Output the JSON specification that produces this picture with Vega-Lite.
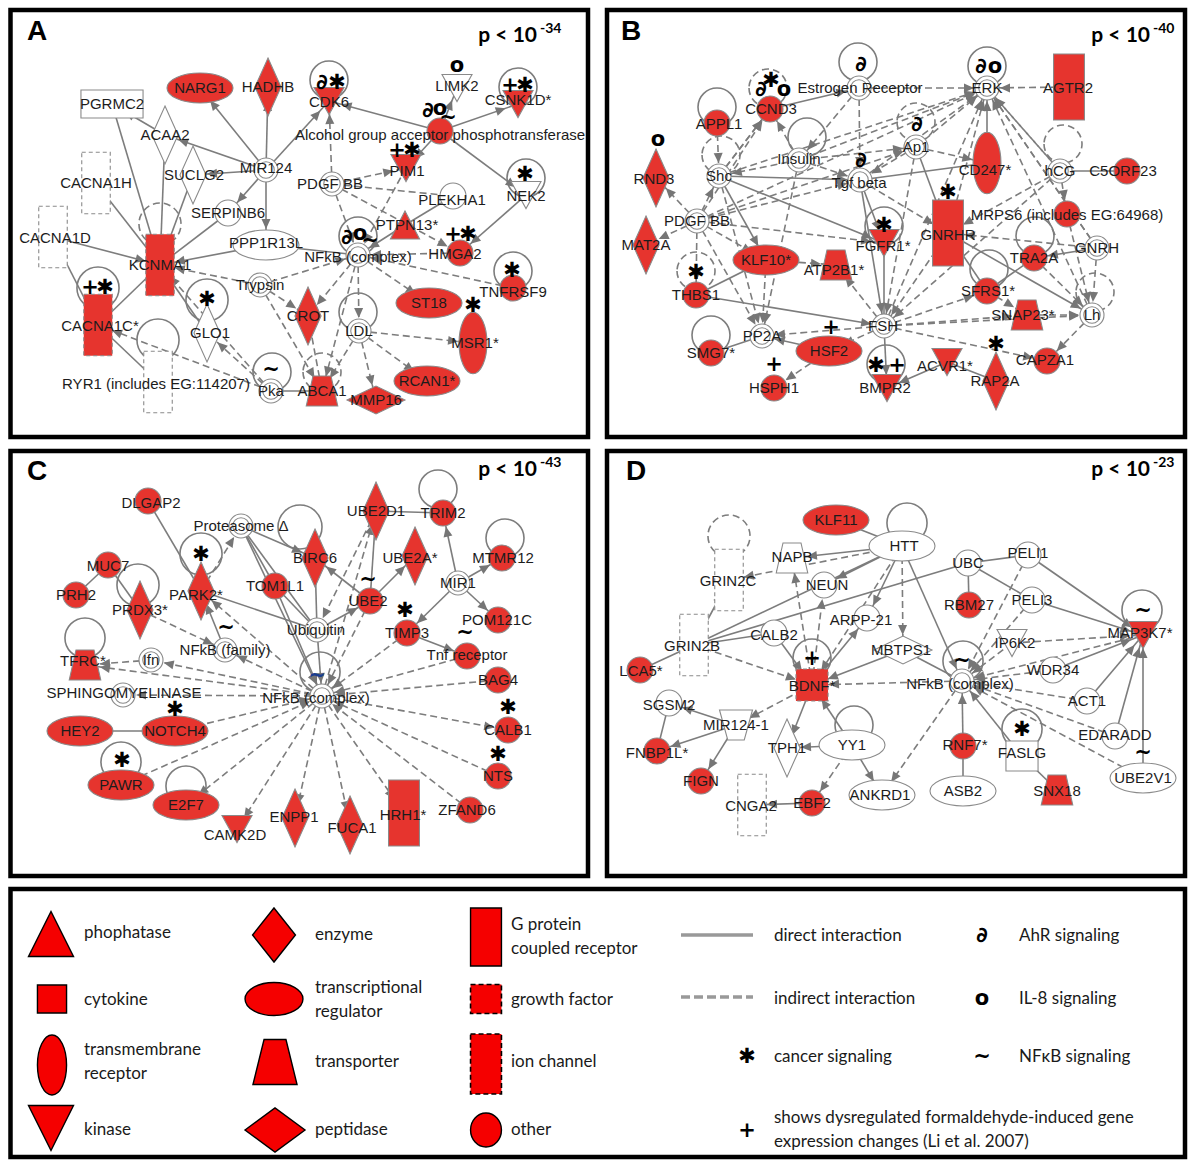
{
"$schema":"https://vega.github.io/schema/vega-lite/v6.json",
"width":1191,"height":1160,"padding":0,
"autosize":{"type":"fit","contains":"padding"},
"background":"white",
"config":{"view":{"stroke":null}},
"resolve":{"scale":{"shape":"independent"}},
"datasets":{
"boxes":[{"x1":10.5,"y1":10,"x2":588,"y2":437},{"x1":607,"y1":10,"x2":1185,"y2":437},{"x1":10.5,"y1":451,"x2":588,"y2":876},{"x1":607,"y1":451,"x2":1185,"y2":876},{"x1":10.5,"y1":889,"x2":1185,"y2":1157}],
"nodes":[
{"id":"a_narg1","x":200,"y":88,"t":"tr","r":1,"l":"NARG1","lx":200,"ly":88},
{"id":"a_hadhb","x":268,"y":87,"t":"enz","r":1,"l":"HADHB","lx":268,"ly":87},
{"id":"a_pgrmc2","x":112,"y":104,"t":"nuc","r":0,"l":"PGRMC2","lx":112,"ly":104},
{"id":"a_acaa2","x":165,"y":135,"t":"enz","r":0,"l":"ACAA2","lx":165,"ly":135},
{"id":"a_suclg2","x":193,"y":175,"t":"enz","r":0,"l":"SUCLG2","lx":194,"ly":175},
{"id":"a_mir124","x":266,"y":170,"t":"cx","r":0,"l":"MIR124","lx":266,"ly":168},
{"id":"a_cacna1h","x":96,"y":183,"t":"ion","r":0,"l":"CACNA1H","lx":96,"ly":183},
{"id":"a_serpinb6","x":228,"y":213,"t":"oth","r":0,"l":"SERPINB6","lx":228,"ly":213},
{"id":"a_cacna1d","x":53,"y":237,"t":"ion","r":0,"l":"CACNA1D","lx":55,"ly":238},
{"id":"a_kcnma1","x":160,"y":265,"t":"ion","r":1,"l":"KCNMA1","lx":160,"ly":265},
{"id":"a_ppp1r13l","x":266,"y":245,"t":"tr","r":0,"l":"PPP1R13L","lx":266,"ly":243},
{"id":"a_trypsin","x":260,"y":285,"t":"cx","r":0,"l":"Trypsin","lx":260,"ly":285},
{"id":"a_cacna1c","x":98,"y":325,"t":"ion","r":1,"l":"CACNA1C*","lx":100,"ly":326},
{"id":"a_glo1","x":207,"y":333,"t":"enz","r":0,"l":"GLO1","lx":210,"ly":333},
{"id":"a_ryr1","x":158,"y":382,"t":"ion","r":0,"l":"RYR1 (includes EG:114207)","lx":156,"ly":384},
{"id":"a_pka","x":271,"y":391,"t":"cx","r":0,"l":"Pka","lx":271,"ly":391},
{"id":"a_abca1","x":322,"y":391,"t":"trans","r":1,"l":"ABCA1","lx":322,"ly":391},
{"id":"a_mmp16","x":376,"y":400,"t":"pep","r":1,"l":"MMP16","lx":376,"ly":400},
{"id":"a_rcan1","x":427,"y":381,"t":"tr","r":1,"l":"RCAN1*","lx":427,"ly":381},
{"id":"a_ldl","x":359,"y":331,"t":"cx","r":0,"l":"LDL","lx":359,"ly":331},
{"id":"a_crot","x":308,"y":316,"t":"enz","r":1,"l":"CROT","lx":308,"ly":316},
{"id":"a_nfkb","x":358,"y":255,"t":"cx","r":0,"l":"NFkB (complex)","lx":358,"ly":257},
{"id":"a_alc","x":440,"y":131,"t":"oth","r":1,"l":"Alcohol group acceptor phosphotransferase","lx":440,"ly":135},
{"id":"a_cdk6","x":329,"y":101,"t":"kin","r":1,"l":"CDK6","lx":329,"ly":102},
{"id":"a_limk2","x":457,"y":88,"t":"kin","r":0,"l":"LIMK2","lx":457,"ly":86},
{"id":"a_csnk1d","x":518,"y":104,"t":"kin","r":1,"l":"CSNK1D*","lx":518,"ly":100},
{"id":"a_pim1","x":406,"y":168,"t":"kin","r":1,"l":"PIM1","lx":407,"ly":171},
{"id":"a_pdgf","x":332,"y":184,"t":"cx","r":0,"l":"PDGF BB","lx":330,"ly":184},
{"id":"a_plekha1","x":453,"y":196,"t":"oth","r":0,"l":"PLEKHA1","lx":452,"ly":200},
{"id":"a_nek2","x":526,"y":195,"t":"kin","r":0,"l":"NEK2","lx":526,"ly":196},
{"id":"a_ptpn13","x":405,"y":225,"t":"phos","r":1,"l":"PTPN13*","lx":407,"ly":225},
{"id":"a_hmga2","x":460,"y":253,"t":"oth","r":1,"l":"HMGA2","lx":455,"ly":254},
{"id":"a_tnfrsf9","x":513,"y":288,"t":"oth","r":1,"l":"TNFRSF9","lx":513,"ly":292},
{"id":"a_st18","x":429,"y":303,"t":"tr","r":1,"l":"ST18","lx":429,"ly":303},
{"id":"a_msr1","x":473,"y":343,"t":"tm","r":1,"l":"MSR1*","lx":475,"ly":343},
{"id":"b_er","x":859,"y":88,"t":"cx","r":0,"l":"Estrogen Receptor","lx":860,"ly":88},
{"id":"b_erk","x":987,"y":88,"t":"cx","r":0,"l":"ERK","lx":987,"ly":88},
{"id":"b_agtr2","x":1069,"y":87,"t":"gpcr","r":1,"l":"AGTR2","lx":1068,"ly":88},
{"id":"b_ccnd3","x":770,"y":109,"t":"oth","r":1,"l":"CCND3","lx":771,"ly":109},
{"id":"b_appl1","x":717,"y":123,"t":"oth","r":1,"l":"APPL1","lx":719,"ly":124},
{"id":"b_insulin","x":799,"y":160,"t":"cx","r":0,"l":"Insulin","lx":799,"ly":159},
{"id":"b_shc","x":719,"y":176,"t":"cx","r":0,"l":"Shc","lx":719,"ly":176},
{"id":"b_tgfb","x":860,"y":180,"t":"cx","r":0,"l":"Tgf beta","lx":859,"ly":183},
{"id":"b_ap1","x":916,"y":147,"t":"cx","r":0,"l":"Ap1","lx":916,"ly":147},
{"id":"b_cd247","x":987,"y":163,"t":"tm","r":1,"l":"CD247*","lx":985,"ly":170},
{"id":"b_hcg","x":1060,"y":171,"t":"cx","r":0,"l":"hCG","lx":1060,"ly":171},
{"id":"b_c5orf23","x":1127,"y":171,"t":"oth","r":1,"l":"C5ORF23","lx":1123,"ly":171},
{"id":"b_mrps6","x":1067,"y":214,"t":"oth","r":1,"l":"MRPS6 (includes EG:64968)","lx":1067,"ly":215},
{"id":"b_gnrhr","x":948,"y":233,"t":"gpcr","r":1,"l":"GNRHR","lx":948,"ly":235},
{"id":"b_gnrh","x":1097,"y":248,"t":"cx","r":0,"l":"GNRH","lx":1097,"ly":248},
{"id":"b_tra2a","x":1034,"y":258,"t":"oth","r":1,"l":"TRA2A","lx":1034,"ly":258},
{"id":"b_sfrs1","x":987,"y":291,"t":"oth","r":1,"l":"SFRS1*","lx":988,"ly":291},
{"id":"b_snap23","x":1027,"y":315,"t":"trans","r":1,"l":"SNAP23*","lx":1023,"ly":315},
{"id":"b_lh","x":1092,"y":315,"t":"cx","r":0,"l":"Lh","lx":1092,"ly":315},
{"id":"b_capza1","x":1047,"y":361,"t":"oth","r":1,"l":"CAPZA1","lx":1045,"ly":360},
{"id":"b_rap2a","x":996,"y":381,"t":"enz","r":1,"l":"RAP2A","lx":995,"ly":381},
{"id":"b_acvr1","x":947,"y":362,"t":"kin","r":1,"l":"ACVR1*","lx":945,"ly":366},
{"id":"b_bmpr2","x":887,"y":388,"t":"kin","r":1,"l":"BMPR2","lx":885,"ly":388},
{"id":"b_fsh","x":884,"y":326,"t":"cx","r":0,"l":"FSH","lx":883,"ly":326},
{"id":"b_fgfr1","x":884,"y":243,"t":"kin","r":1,"l":"FGFR1*","lx":883,"ly":246},
{"id":"b_atp2b1","x":836,"y":265,"t":"trans","r":1,"l":"ATP2B1*","lx":834,"ly":270},
{"id":"b_klf10","x":766,"y":260,"t":"tr","r":1,"l":"KLF10*","lx":766,"ly":260},
{"id":"b_rnd3","x":656,"y":178,"t":"enz","r":1,"l":"RND3","lx":654,"ly":179},
{"id":"b_mat2a","x":646,"y":245,"t":"enz","r":1,"l":"MAT2A","lx":646,"ly":245},
{"id":"b_pdgf","x":697,"y":221,"t":"cx","r":0,"l":"PDGF BB","lx":697,"ly":221},
{"id":"b_thbs1","x":696,"y":295,"t":"oth","r":1,"l":"THBS1","lx":696,"ly":295},
{"id":"b_pp2a","x":762,"y":336,"t":"cx","r":0,"l":"PP2A","lx":762,"ly":336},
{"id":"b_smg7","x":711,"y":353,"t":"oth","r":1,"l":"SMG7*","lx":711,"ly":353},
{"id":"b_hsf2","x":829,"y":351,"t":"tr","r":1,"l":"HSF2","lx":829,"ly":351},
{"id":"b_hsph1","x":774,"y":388,"t":"oth","r":1,"l":"HSPH1","lx":774,"ly":388},
{"id":"c_dlgap2","x":148,"y":501,"t":"oth","r":1,"l":"DLGAP2","lx":151,"ly":503},
{"id":"c_prot","x":241,"y":526,"t":"cx","r":0,"l":"Proteasome Δ","lx":241,"ly":526},
{"id":"c_muc7","x":108,"y":565,"t":"oth","r":1,"l":"MUC7","lx":108,"ly":566},
{"id":"c_prh2","x":76,"y":595,"t":"oth","r":1,"l":"PRH2","lx":76,"ly":595},
{"id":"c_prdx3","x":140,"y":610,"t":"enz","r":1,"l":"PRDX3*","lx":140,"ly":610},
{"id":"c_park2","x":201,"y":591,"t":"enz","r":1,"l":"PARK2*","lx":196,"ly":595},
{"id":"c_tom1l1","x":275,"y":586,"t":"oth","r":1,"l":"TOM1L1","lx":275,"ly":586},
{"id":"c_nfkbf","x":225,"y":650,"t":"cx","r":0,"l":"NFkB (family)","lx":225,"ly":650},
{"id":"c_tfrc","x":85,"y":665,"t":"trans","r":1,"l":"TFRC*","lx":83,"ly":661},
{"id":"c_ifn","x":151,"y":660,"t":"cx","r":0,"l":"Ifn","lx":151,"ly":660},
{"id":"c_sphingo","x":123,"y":695,"t":"cx","r":0,"l":"SPHINGOMYELINASE","lx":124,"ly":693},
{"id":"c_nfkb","x":322,"y":696,"t":"cx","r":0,"l":"NFkB (complex)","lx":316,"ly":698},
{"id":"c_notch4","x":175,"y":731,"t":"tr","r":1,"l":"NOTCH4","lx":175,"ly":731},
{"id":"c_hey2","x":80,"y":731,"t":"tr","r":1,"l":"HEY2","lx":80,"ly":731},
{"id":"c_pawr","x":121,"y":785,"t":"tr","r":1,"l":"PAWR","lx":121,"ly":785},
{"id":"c_e2f7","x":186,"y":805,"t":"tr","r":1,"l":"E2F7","lx":186,"ly":805},
{"id":"c_camk2d","x":237,"y":829,"t":"kin","r":1,"l":"CAMK2D","lx":235,"ly":835},
{"id":"c_enpp1","x":295,"y":818,"t":"enz","r":1,"l":"ENPP1","lx":294,"ly":817},
{"id":"c_fuca1","x":350,"y":825,"t":"enz","r":1,"l":"FUCA1","lx":352,"ly":828},
{"id":"c_hrh1","x":404,"y":813,"t":"gpcr","r":1,"l":"HRH1*","lx":403,"ly":815},
{"id":"c_zfand6","x":470,"y":810,"t":"oth","r":1,"l":"ZFAND6","lx":467,"ly":810},
{"id":"c_nts","x":498,"y":776,"t":"oth","r":1,"l":"NTS","lx":498,"ly":776},
{"id":"c_calb1","x":508,"y":730,"t":"oth","r":1,"l":"CALB1","lx":508,"ly":730},
{"id":"c_bag4","x":498,"y":680,"t":"oth","r":1,"l":"BAG4","lx":498,"ly":680},
{"id":"c_tnfr","x":467,"y":656,"t":"oth","r":1,"l":"Tnf receptor","lx":467,"ly":655},
{"id":"c_pom121c","x":498,"y":620,"t":"oth","r":1,"l":"POM121C","lx":497,"ly":620},
{"id":"c_timp3","x":407,"y":633,"t":"oth","r":1,"l":"TIMP3","lx":407,"ly":633},
{"id":"c_mir1","x":458,"y":583,"t":"cx","r":0,"l":"MIR1","lx":458,"ly":583},
{"id":"c_mtmr12","x":502,"y":558,"t":"oth","r":1,"l":"MTMR12","lx":503,"ly":558},
{"id":"c_trim2","x":443,"y":513,"t":"oth","r":1,"l":"TRIM2","lx":443,"ly":513},
{"id":"c_ube2d1","x":376,"y":511,"t":"enz","r":1,"l":"UBE2D1","lx":376,"ly":511},
{"id":"c_ube2a","x":415,"y":556,"t":"enz","r":1,"l":"UBE2A*","lx":410,"ly":558},
{"id":"c_birc6","x":315,"y":558,"t":"enz","r":1,"l":"BIRC6","lx":315,"ly":558},
{"id":"c_ube2","x":370,"y":601,"t":"oth","r":1,"l":"UBE2","lx":368,"ly":601},
{"id":"c_ubiq","x":317,"y":630,"t":"cx","r":0,"l":"Ubiquitin","lx":316,"ly":630},
{"id":"d_klf11","x":836,"y":520,"t":"tr","r":1,"l":"KLF11","lx":836,"ly":520},
{"id":"d_htt","x":902,"y":546,"t":"tr","r":0,"l":"HTT","lx":904,"ly":546},
{"id":"d_napb","x":792,"y":558,"t":"trans","r":0,"l":"NAPB","lx":792,"ly":557},
{"id":"d_grin2c","x":729,"y":580,"t":"ion","r":0,"l":"GRIN2C","lx":728,"ly":581},
{"id":"d_neun","x":824,"y":585,"t":"oth","r":0,"l":"NEUN","lx":827,"ly":585},
{"id":"d_grin2b","x":694,"y":645,"t":"ion","r":0,"l":"GRIN2B","lx":692,"ly":646},
{"id":"d_arpp21","x":867,"y":618,"t":"oth","r":0,"l":"ARPP-21","lx":861,"ly":620},
{"id":"d_calb2","x":774,"y":633,"t":"oth","r":0,"l":"CALB2","lx":774,"ly":635},
{"id":"d_mbtps1","x":903,"y":650,"t":"pep","r":0,"l":"MBTPS1","lx":901,"ly":650},
{"id":"d_lca5","x":640,"y":670,"t":"oth","r":1,"l":"LCA5*","lx":641,"ly":671},
{"id":"d_bdnf","x":812,"y":685,"t":"growth","r":1,"l":"BDNF*","lx":812,"ly":686},
{"id":"d_nfkb","x":962,"y":681,"t":"cx","r":0,"l":"NFkB (complex)","lx":960,"ly":684},
{"id":"d_sgsm2","x":669,"y":703,"t":"oth","r":0,"l":"SGSM2","lx":669,"ly":705},
{"id":"d_mir1241","x":736,"y":725,"t":"mir","r":0,"l":"MIR124-1","lx":736,"ly":725},
{"id":"d_fnbp1l","x":657,"y":751,"t":"oth","r":1,"l":"FNBP1L*","lx":657,"ly":753},
{"id":"d_fign","x":701,"y":781,"t":"oth","r":1,"l":"FIGN","lx":701,"ly":781},
{"id":"d_tph1","x":787,"y":748,"t":"enz","r":0,"l":"TPH1","lx":787,"ly":748},
{"id":"d_yy1","x":852,"y":745,"t":"tr","r":0,"l":"YY1","lx":852,"ly":745},
{"id":"d_cnga2","x":752,"y":805,"t":"ion","r":0,"l":"CNGA2","lx":751,"ly":806},
{"id":"d_ebf2","x":812,"y":803,"t":"oth","r":1,"l":"EBF2","lx":812,"ly":803},
{"id":"d_ankrd1","x":882,"y":795,"t":"tr","r":0,"l":"ANKRD1","lx":880,"ly":795},
{"id":"d_ubc","x":968,"y":563,"t":"oth","r":0,"l":"UBC","lx":968,"ly":563},
{"id":"d_peli1","x":1028,"y":555,"t":"oth","r":0,"l":"PELI1","lx":1028,"ly":553},
{"id":"d_rbm27","x":969,"y":605,"t":"oth","r":1,"l":"RBM27","lx":969,"ly":605},
{"id":"d_peli3","x":1032,"y":600,"t":"oth","r":0,"l":"PELI3","lx":1032,"ly":600},
{"id":"d_ip6k2","x":1012,"y":643,"t":"kin","r":0,"l":"IP6K2","lx":1015,"ly":643},
{"id":"d_map3k7","x":1143,"y":635,"t":"kin","r":1,"l":"MAP3K7*","lx":1140,"ly":633},
{"id":"d_wdr34","x":1053,"y":670,"t":"oth","r":0,"l":"WDR34","lx":1053,"ly":670},
{"id":"d_act1","x":1087,"y":701,"t":"oth","r":0,"l":"ACT1","lx":1087,"ly":701},
{"id":"d_edaradd","x":1115,"y":736,"t":"oth","r":0,"l":"EDARADD","lx":1115,"ly":735},
{"id":"d_ube2v1","x":1143,"y":778,"t":"tr","r":0,"l":"UBE2V1","lx":1143,"ly":778},
{"id":"d_faslg","x":1022,"y":756,"t":"cyt","r":0,"l":"FASLG","lx":1022,"ly":753},
{"id":"d_snx18","x":1057,"y":790,"t":"trans","r":1,"l":"SNX18","lx":1057,"ly":791},
{"id":"d_rnf7","x":963,"y":746,"t":"oth","r":1,"l":"RNF7*","lx":965,"ly":745},
{"id":"d_asb2","x":963,"y":791,"t":"tr","r":0,"l":"ASB2","lx":963,"ly":791}
],
"edges":[
{"s":"a_mir124","t":"a_narg1","k":"s","a":-129},{"s":"a_mir124","t":"a_hadhb","k":"s","a":-89},{"s":"a_mir124","t":"a_acaa2","k":"s","a":-161},{"s":"a_mir124","t":"a_suclg2","k":"s","a":176},{"s":"a_mir124","t":"a_serpinb6","k":"s","a":131},{"s":"a_mir124","t":"a_ppp1r13l","k":"s","a":90},{"s":"a_mir124","t":"a_cdk6","k":"s","a":-48},{"s":"a_acaa2","t":"a_pgrmc2","k":"s","a":-150},{"s":"a_pgrmc2","t":"a_kcnma1","k":"s"},{"s":"a_acaa2","t":"a_kcnma1","k":"s"},{"s":"a_suclg2","t":"a_kcnma1","k":"s"},{"s":"a_cacna1h","t":"a_kcnma1","k":"s"},{"s":"a_cacna1d","t":"a_kcnma1","k":"s","a":15},{"s":"a_serpinb6","t":"a_kcnma1","k":"s"},{"s":"a_ppp1r13l","t":"a_kcnma1","k":"s","a":169},{"s":"a_kcnma1","t":"a_cacna1c","k":"s"},{"s":"a_cacna1d","t":"a_cacna1c","k":"s"},{"s":"a_kcnma1","t":"a_glo1","k":"s"},{"s":"a_cacna1c","t":"a_ryr1","k":"s"},{"s":"a_pka","t":"a_abca1","k":"s"},{"s":"a_alc","t":"a_cdk6","k":"s","a":-165},{"s":"a_alc","t":"a_limk2","k":"s","a":-68},{"s":"a_alc","t":"a_csnk1d","k":"s","a":-19},{"s":"a_alc","t":"a_pim1","k":"s","a":133},{"s":"a_alc","t":"a_nek2","k":"s","a":37},{"s":"a_nek2","t":"a_hmga2","k":"s","a":139},{"s":"a_plekha1","t":"a_ptpn13","k":"s"},{"s":"a_ppp1r13l","t":"a_nfkb","k":"s"},{"s":"a_ptpn13","t":"a_nfkb","k":"s","a":148},
{"s":"a_pdgf","t":"a_cdk6","k":"d","a":-92},{"s":"a_pdgf","t":"a_pim1","k":"d","a":-12},{"s":"a_pdgf","t":"a_plekha1","k":"d"},{"s":"a_pdgf","t":"a_hmga2","k":"d","a":28},{"s":"a_pdgf","t":"a_nfkb","k":"d","a":70},{"s":"a_pim1","t":"a_nfkb","k":"d","a":119},{"s":"a_hmga2","t":"a_nfkb","k":"d","a":179},{"s":"a_tnfrsf9","t":"a_nfkb","k":"d","a":-168},{"s":"a_nfkb","t":"a_st18","k":"d","a":34},{"s":"a_nfkb","t":"a_crot","k":"d","a":129},{"s":"a_nfkb","t":"a_ldl","k":"d","a":89},{"s":"a_ldl","t":"a_msr1","k":"d","a":6},{"s":"a_ldl","t":"a_rcan1","k":"d","a":36},{"s":"a_ldl","t":"a_mmp16","k":"d","a":76},{"s":"a_ldl","t":"a_abca1","k":"d","a":122},{"s":"a_crot","t":"a_abca1","k":"d"},{"s":"a_trypsin","t":"a_nfkb","k":"d","a":-17},{"s":"a_trypsin","t":"a_crot","k":"d","a":33},{"s":"a_trypsin","t":"a_abca1","k":"d","a":60},{"s":"a_trypsin","t":"a_kcnma1","k":"d","a":-169},{"s":"a_pka","t":"a_glo1","k":"d","a":-138},{"s":"a_pka","t":"a_cacna1c","k":"d","a":-159},{"s":"a_pka","t":"a_kcnma1","k":"d","a":-131},{"s":"a_nfkb","t":"a_abca1","k":"d","a":105},
{"s":"b_er","t":"b_erk","k":"d","a":0},{"s":"b_agtr2","t":"b_erk","k":"d","a":180},{"s":"b_shc","t":"b_erk","k":"d","a":-18},{"s":"b_insulin","t":"b_erk","k":"d","a":-21},{"s":"b_tgfb","t":"b_erk","k":"d","a":-36},{"s":"b_ap1","t":"b_erk","k":"d","a":-40},{"s":"b_pdgf","t":"b_erk","k":"d","a":-25},{"s":"b_gnrh","t":"b_erk","k":"d","a":-124},{"s":"b_gnrhr","t":"b_erk","k":"d","a":-75},{"s":"b_fsh","t":"b_erk","k":"d","a":-67},{"s":"b_lh","t":"b_erk","k":"d","a":-115},{"s":"b_hcg","t":"b_erk","k":"d","a":-131},{"s":"b_insulin","t":"b_ccnd3","k":"d","a":-120},{"s":"b_shc","t":"b_ccnd3","k":"d","a":-53},{"s":"b_pdgf","t":"b_ccnd3","k":"d","a":-57},{"s":"b_er","t":"b_insulin","k":"d","a":130},{"s":"b_insulin","t":"b_shc","k":"d","a":169},{"s":"b_insulin","t":"b_ap1","k":"d","a":-6},{"s":"b_insulin","t":"b_tgfb","k":"d","a":18},{"s":"b_insulin","t":"b_pp2a","k":"d","a":102},{"s":"b_pdgf","t":"b_shc","k":"d","a":-64},{"s":"b_pdgf","t":"b_rnd3","k":"d","a":-134},{"s":"b_pdgf","t":"b_mat2a","k":"d","a":155},{"s":"b_pdgf","t":"b_thbs1","k":"d","a":91},{"s":"b_pdgf","t":"b_klf10","k":"d","a":29},{"s":"b_pdgf","t":"b_tgfb","k":"d","a":-14},{"s":"b_pdgf","t":"b_ap1","k":"d","a":-19},{"s":"b_pdgf","t":"b_fgfr1","k":"d","a":7},{"s":"b_pdgf","t":"b_pp2a","k":"d","a":60},{"s":"b_klf10","t":"b_atp2b1","k":"d","a":4},{"s":"b_klf10","t":"b_pp2a","k":"d","a":93},{"s":"b_tgfb","t":"b_gnrhr","k":"d","a":31},{"s":"b_ap1","t":"b_fsh","k":"d","a":100},{"s":"b_ap1","t":"b_cd247","k":"d","a":13},{"s":"b_ap1","t":"b_tgfb","k":"d","a":150},{"s":"b_erk","t":"b_gnrh","k":"d"},{"s":"b_hcg","t":"b_mrps6","k":"d","a":81},{"s":"b_hcg","t":"b_gnrhr","k":"d","a":151},{"s":"b_hcg","t":"b_fsh","k":"d","a":139},{"s":"b_gnrh","t":"b_gnrhr","k":"d","a":-174},{"s":"b_gnrh","t":"b_lh","k":"d","a":94},{"s":"b_gnrhr","t":"b_fsh","k":"d","a":124},{"s":"b_sfrs1","t":"b_snap23","k":"d","a":31},{"s":"b_snap23","t":"b_lh","k":"d","a":0},{"s":"b_fsh","t":"b_snap23","k":"d","a":-4},{"s":"b_fsh","t":"b_lh","k":"d","a":-3},{"s":"b_fsh","t":"b_capza1","k":"d","a":12},{"s":"b_fsh","t":"b_sfrs1","k":"d","a":-19},{"s":"b_fsh","t":"b_atp2b1","k":"d","a":-128},{"s":"b_fsh","t":"b_hsf2","k":"d","a":156},{"s":"b_fsh","t":"b_pp2a","k":"d","a":175},{"s":"b_lh","t":"b_capza1","k":"d","a":134},{"s":"b_hsf2","t":"b_hsph1","k":"d","a":146},{"s":"b_mrps6","t":"b_lh","k":"d","a":76},{"s":"b_tra2a","t":"b_lh","k":"d","a":45},{"s":"b_shc","t":"b_pp2a","k":"d","a":75},{"s":"b_appl1","t":"b_shc","k":"d","a":88},{"s":"b_er","t":"b_tgfb","k":"d","a":89},{"s":"b_erk","t":"b_hcg","k":"d"},{"s":"b_ccnd3","t":"b_shc","k":"d"},
{"s":"b_ccnd3","t":"b_er","k":"s","a":-13},{"s":"b_shc","t":"b_klf10","k":"s","a":61},{"s":"b_shc","t":"b_fgfr1","k":"s","a":22},{"s":"b_shc","t":"b_tgfb","k":"s","a":2},{"s":"b_tgfb","t":"b_cd247","k":"s"},{"s":"b_tgfb","t":"b_fgfr1","k":"s","a":69},{"s":"b_tgfb","t":"b_fsh","k":"s","a":81},{"s":"b_ap1","t":"b_gnrhr","k":"s","a":70},{"s":"b_hcg","t":"b_c5orf23","k":"s"},{"s":"b_gnrh","t":"b_tra2a","k":"s","a":171},{"s":"b_gnrhr","t":"b_sfrs1","k":"s"},{"s":"b_gnrhr","t":"b_lh","k":"s","a":30},{"s":"b_tra2a","t":"b_sfrs1","k":"s"},{"s":"b_fsh","t":"b_bmpr2","k":"s","a":87},{"s":"b_fsh","t":"b_fgfr1","k":"s"},{"s":"b_acvr1","t":"b_bmpr2","k":"s","a":157},{"s":"b_acvr1","t":"b_rap2a","k":"s"},{"s":"b_hsf2","t":"b_pp2a","k":"s","a":-167},{"s":"b_pp2a","t":"b_smg7","k":"s"},{"s":"b_cd247","t":"b_erk","k":"s","a":-90},{"s":"b_thbs1","t":"b_klf10","k":"s"},{"s":"b_thbs1","t":"b_fsh","k":"s","a":9},
{"s":"c_nfkb","t":"c_tfrc","k":"d","a":-172},{"s":"c_nfkb","t":"c_ifn","k":"d","a":-168},{"s":"c_nfkb","t":"c_sphingo","k":"d","a":180},{"s":"c_notch4","t":"c_nfkb","k":"d","a":-13},{"s":"c_pawr","t":"c_nfkb","k":"d","a":-24},{"s":"c_nfkb","t":"c_e2f7","k":"d","a":141},{"s":"c_nfkb","t":"c_camk2d","k":"d","a":123},{"s":"c_nfkb","t":"c_enpp1","k":"d","a":102},{"s":"c_nfkb","t":"c_fuca1","k":"d","a":78},{"s":"c_nfkb","t":"c_hrh1","k":"d","a":55},{"s":"c_zfand6","t":"c_nfkb","k":"d","a":-142},{"s":"c_nts","t":"c_nfkb","k":"d","a":-156},{"s":"c_nfkb","t":"c_calb1","k":"d","a":10},{"s":"c_bag4","t":"c_nfkb","k":"d","a":175},{"s":"c_tnfr","t":"c_nfkb","k":"d","a":165},{"s":"c_timp3","t":"c_nfkb","k":"d","a":143},{"s":"c_ube2","t":"c_nfkb","k":"d","a":117},{"s":"c_nfkb","t":"c_nfkbf","k":"d","a":-155},{"s":"c_nfkb","t":"c_park2","k":"d","a":-139},{"s":"c_prdx3","t":"c_nfkbf","k":"d","a":25},{"s":"c_ifn","t":"c_tfrc","k":"d","a":176},{"s":"c_park2","t":"c_prot","k":"d","a":-58},{"s":"c_ube2d1","t":"c_ubiq","k":"d","a":116},{"s":"c_nfkb","t":"c_ube2d1","k":"d","a":-74},
{"s":"c_timp3","t":"c_tnfr","k":"s","a":21},{"s":"c_mir1","t":"c_timp3","k":"s","a":136},{"s":"c_mir1","t":"c_trim2","k":"s","a":-102},{"s":"c_mir1","t":"c_mtmr12","k":"s","a":-30},{"s":"c_mir1","t":"c_pom121c","k":"s","a":43},{"s":"c_ube2","t":"c_ube2d1","k":"s","a":-86},{"s":"c_ube2","t":"c_ube2a","k":"s","a":-45},{"s":"c_ube2","t":"c_birc6","k":"s","a":-142},{"s":"c_ubiq","t":"c_ube2","k":"s","a":-29},{"s":"c_ubiq","t":"c_birc6","k":"s"},{"s":"c_ubiq","t":"c_prot","k":"s"},{"s":"c_ubiq","t":"c_nfkb","k":"s","a":86},{"s":"c_ube2d1","t":"c_trim2","k":"s"},{"s":"c_prot","t":"c_birc6","k":"s","a":23},{"s":"c_prot","t":"c_tom1l1","k":"s"},{"s":"c_tom1l1","t":"c_ubiq","k":"s"},{"s":"c_park2","t":"c_ubiq","k":"s"},{"s":"c_nfkbf","t":"c_park2","k":"s","a":-112},{"s":"c_dlgap2","t":"c_park2","k":"s"},{"s":"c_muc7","t":"c_prh2","k":"s"},{"s":"c_muc7","t":"c_prdx3","k":"s"},{"s":"c_notch4","t":"c_hey2","k":"s","a":180},{"s":"c_tom1l1","t":"c_nfkb","k":"s","a":67},{"s":"c_prot","t":"c_nfkb","k":"s","a":64},
{"s":"d_klf11","t":"d_htt","k":"s"},{"s":"d_htt","t":"d_napb","k":"s","a":174},{"s":"d_htt","t":"d_neun","k":"s","a":153},{"s":"d_htt","t":"d_arpp21","k":"s","a":116},{"s":"d_htt","t":"d_nfkb","k":"s","a":66},{"s":"d_grin2b","t":"d_htt","k":"s"},{"s":"d_grin2b","t":"d_ubc","k":"s"},{"s":"d_grin2b","t":"d_calb2","k":"s"},{"s":"d_grin2b","t":"d_lca5","k":"s"},{"s":"d_grin2b","t":"d_grin2c","k":"s","a":-62},{"s":"d_calb2","t":"d_bdnf","k":"s","a":54},{"s":"d_bdnf","t":"d_arpp21","k":"s","a":-51},{"s":"d_mbtps1","t":"d_bdnf","k":"s","a":159},{"s":"d_bdnf","t":"d_tph1","k":"s","a":112},{"s":"d_yy1","t":"d_bdnf","k":"s","a":-124},{"s":"d_yy1","t":"d_tph1","k":"s","a":177},{"s":"d_yy1","t":"d_ankrd1","k":"s","a":59},{"s":"d_mbtps1","t":"d_nfkb","k":"s"},{"s":"d_mir1241","t":"d_sgsm2","k":"s","a":-162},{"s":"d_mir1241","t":"d_fnbp1l","k":"s","a":162},{"s":"d_mir1241","t":"d_fign","k":"s","a":122},{"s":"d_sgsm2","t":"d_fnbp1l","k":"s"},{"s":"d_ebf2","t":"d_cnga2","k":"s","a":178},{"s":"d_ubc","t":"d_peli1","k":"s"},{"s":"d_ubc","t":"d_peli3","k":"s"},{"s":"d_ubc","t":"d_rbm27","k":"s"},{"s":"d_peli1","t":"d_map3k7","k":"s","a":35},{"s":"d_peli3","t":"d_map3k7","k":"s","a":17},{"s":"d_wdr34","t":"d_map3k7","k":"s","a":-21},{"s":"d_act1","t":"d_map3k7","k":"s","a":-50},{"s":"d_edaradd","t":"d_map3k7","k":"s","a":-74},{"s":"d_ube2v1","t":"d_map3k7","k":"s","a":-90},{"s":"d_faslg","t":"d_nfkb","k":"s","a":-129},{"s":"d_faslg","t":"d_snx18","k":"s"},{"s":"d_rnf7","t":"d_nfkb","k":"s","a":-91},{"s":"d_rnf7","t":"d_asb2","k":"s"},
{"s":"d_htt","t":"d_grin2c","k":"d","a":169},{"s":"d_htt","t":"d_mbtps1","k":"d","a":89},{"s":"d_htt","t":"d_bdnf","k":"d","a":123},{"s":"d_grin2b","t":"d_bdnf","k":"d","a":19},{"s":"d_bdnf","t":"d_neun","k":"d","a":-83},{"s":"d_bdnf","t":"d_napb","k":"d","a":-99},{"s":"d_nfkb","t":"d_bdnf","k":"d","a":178},{"s":"d_bdnf","t":"d_mir1241","k":"d","a":152},{"s":"d_yy1","t":"d_ebf2","k":"d","a":125},{"s":"d_nfkb","t":"d_ankrd1","k":"d","a":125},{"s":"d_peli1","t":"d_nfkb","k":"d","a":118},{"s":"d_ip6k2","t":"d_map3k7","k":"d","a":-3},{"s":"d_ip6k2","t":"d_nfkb","k":"d","a":143},{"s":"d_wdr34","t":"d_nfkb","k":"d","a":173},{"s":"d_act1","t":"d_nfkb","k":"d","a":-171},{"s":"d_edaradd","t":"d_nfkb","k":"d","a":-160},{"s":"d_ube2v1","t":"d_nfkb","k":"d","a":-152},{"s":"d_map3k7","t":"d_nfkb","k":"d","a":166},{"s":"d_peli3","t":"d_nfkb","k":"d","a":131}
],
"loops":[
{"x":160,"y":224,"k":"b","st":"d"},{"x":98,"y":288,"k":"b","st":"s"},{"x":207,"y":300,"k":"b","st":"s"},{"x":158,"y":340,"k":"b","st":"s"},{"x":272,"y":372,"k":"s","st":"s"},{"x":322,"y":372,"k":"s","st":"d"},{"x":358,"y":312,"k":"s","st":"s"},{"x":358,"y":236,"k":"s","st":"s"},{"x":329,"y":80,"k":"s","st":"s"},{"x":518,"y":87,"k":"s","st":"s"},{"x":526,"y":178,"k":"s","st":"s"},{"x":513,"y":271,"k":"s","st":"s"},
{"x":858,"y":62,"k":"s","st":"s"},{"x":987,"y":66,"k":"s","st":"s"},{"x":768,"y":88,"k":"s","st":"d"},{"x":717,"y":107,"k":"s","st":"s"},{"x":807,"y":137,"k":"s","st":"s"},{"x":721,"y":155,"k":"s","st":"d"},{"x":916,"y":122,"k":"s","st":"d"},{"x":1063,"y":144,"k":"s","st":"d"},{"x":1035,"y":236,"k":"s","st":"s"},{"x":989,"y":269,"k":"s","st":"s"},{"x":1095,"y":292,"k":"s","st":"d"},{"x":886,"y":364,"k":"s","st":"s"},{"x":884,"y":226,"k":"s","st":"s"},{"x":696,"y":271,"k":"s","st":"d"},{"x":711,"y":335,"k":"s","st":"s"},
{"x":201,"y":554,"k":"b","st":"s"},{"x":138,"y":585,"k":"b","st":"s"},{"x":85,"y":638,"k":"m","st":"s"},{"x":320,"y":672,"k":"m","st":"s"},{"x":121,"y":762,"k":"m","st":"s"},{"x":186,"y":786,"k":"m","st":"s"},{"x":438,"y":489,"k":"s","st":"s"},{"x":505,"y":538,"k":"s","st":"s"},{"x":300,"y":527,"k":"h","st":"s"},
{"x":907,"y":523,"k":"m","st":"s"},{"x":729,"y":536,"k":"b","st":"d"},{"x":812,"y":658,"k":"s","st":"s"},{"x":963,"y":661,"k":"m","st":"s"},{"x":854,"y":725,"k":"s","st":"s"},{"x":1142,"y":610,"k":"m","st":"s"},{"x":1022,"y":729,"k":"m","st":"s"}
],
"syms":[
{"x":322,"y":83,"s":"∂"},{"x":337,"y":83,"s":"✱"},{"x":457,"y":66,"s":"o"},{"x":510,"y":86,"s":"+"},{"x":525,"y":86,"s":"✱"},{"x":428,"y":111,"s":"∂"},{"x":440,"y":109,"s":"o"},{"x":448,"y":118,"s":"~"},{"x":397,"y":151,"s":"+"},{"x":412,"y":151,"s":"✱"},{"x":347,"y":238,"s":"∂"},{"x":360,"y":234,"s":"o"},{"x":370,"y":241,"s":"~"},{"x":525,"y":175,"s":"✱"},{"x":453,"y":235,"s":"+"},{"x":468,"y":235,"s":"✱"},{"x":512,"y":271,"s":"✱"},{"x":473,"y":306,"s":"✱"},{"x":90,"y":288,"s":"+"},{"x":105,"y":288,"s":"✱"},{"x":207,"y":300,"s":"✱"},{"x":271,"y":370,"s":"~"},
{"x":861,"y":65,"s":"∂"},{"x":981,"y":67,"s":"∂"},{"x":995,"y":67,"s":"o"},{"x":761,"y":90,"s":"∂"},{"x":771,"y":81,"s":"✱"},{"x":784,"y":90,"s":"o"},{"x":658,"y":140,"s":"o"},{"x":861,"y":161,"s":"∂"},{"x":917,"y":125,"s":"∂"},{"x":884,"y":226,"s":"✱"},{"x":948,"y":193,"s":"✱"},{"x":696,"y":273,"s":"✱"},{"x":831,"y":328,"s":"+"},{"x":774,"y":365,"s":"+"},{"x":876,"y":366,"s":"✱"},{"x":897,"y":366,"s":"+"},{"x":996,"y":345,"s":"✱"},
{"x":201,"y":555,"s":"✱"},{"x":226,"y":628,"s":"~"},{"x":175,"y":710,"s":"✱"},{"x":122,"y":761,"s":"✱"},{"x":368,"y":580,"s":"~"},{"x":405,"y":611,"s":"✱"},{"x":465,"y":633,"s":"~"},{"x":508,"y":708,"s":"✱"},{"x":498,"y":755,"s":"✱"},
{"x":812,"y":659,"s":"+"},{"x":962,"y":661,"s":"~"},{"x":1143,"y":611,"s":"~"},{"x":1022,"y":730,"s":"✱"},{"x":1143,"y":753,"s":"~"},
{"x":982,"y":936,"s":"∂"},{"x":982,"y":999,"s":"o"},{"x":747,"y":1057,"s":"✱"},{"x":982,"y":1057,"s":"~"},{"x":747,"y":1131,"s":"+"}
],
"bluesym":[{"x":317,"y":676,"s":"~"}],
"leglines":[{"x1":681,"y1":935,"x2":753,"y2":935,"k":"s"},{"x1":681,"y1":997,"x2":753,"y2":997,"k":"d"}],
"legshapes":[
{"x":51,"y":934,"t":"L_phos"},{"x":52,"y":999,"t":"L_cyt"},{"x":52,"y":1065,"t":"L_tm"},{"x":51,"y":1128,"t":"L_kin"},{"x":274,"y":935,"t":"L_enz"},{"x":274,"y":999,"t":"L_tr"},{"x":275,"y":1062,"t":"L_trans"},{"x":275,"y":1130,"t":"L_pep"},{"x":486,"y":937,"t":"L_gpcr"},{"x":486,"y":999,"t":"L_growth"},{"x":486,"y":1064,"t":"L_ion"},{"x":486,"y":1130,"t":"L_oth"}
],
"texts":[
{"x":37,"y":32,"s":"A","g":"L"},{"x":631,"y":32,"s":"B","g":"L"},{"x":37,"y":472,"s":"C","g":"L"},{"x":636,"y":472,"s":"D","g":"L"},
{"x":537,"y":36,"s":"p < 10","g":"P"},{"x":1150,"y":36,"s":"p < 10","g":"P"},{"x":537,"y":470,"s":"p < 10","g":"P"},{"x":1150,"y":470,"s":"p < 10","g":"P"},
{"x":540,"y":29,"s":"-34","g":"E"},{"x":1153,"y":29,"s":"-40","g":"E"},{"x":540,"y":463,"s":"-43","g":"E"},{"x":1153,"y":463,"s":"-23","g":"E"},
{"x":84,"y":933,"s":"phophatase","g":"T"},{"x":84,"y":1000,"s":"cytokine","g":"T"},{"x":84,"y":1050,"s":"transmembrane","g":"T"},{"x":84,"y":1074,"s":"receptor","g":"T"},{"x":84,"y":1130,"s":"kinase","g":"T"},
{"x":315,"y":935,"s":"enzyme","g":"T"},{"x":315,"y":988,"s":"transcriptional","g":"T"},{"x":315,"y":1012,"s":"regulator","g":"T"},{"x":315,"y":1062,"s":"transporter","g":"T"},{"x":315,"y":1130,"s":"peptidase","g":"T"},
{"x":511,"y":925,"s":"G protein","g":"T"},{"x":511,"y":949,"s":"coupled receptor","g":"T"},{"x":511,"y":1000,"s":"growth factor","g":"T"},{"x":511,"y":1062,"s":"ion channel","g":"T"},{"x":511,"y":1130,"s":"other","g":"T"},
{"x":774,"y":936,"s":"direct interaction","g":"T"},{"x":774,"y":999,"s":"indirect interaction","g":"T"},{"x":774,"y":1057,"s":"cancer signaling","g":"T"},{"x":774,"y":1118,"s":"shows dysregulated formaldehyde-induced gene","g":"T"},{"x":774,"y":1142,"s":"expression changes (Li et al. 2007)","g":"T"},
{"x":1019,"y":936,"s":"AhR signaling","g":"T"},{"x":1019,"y":999,"s":"IL-8 signaling","g":"T"},{"x":1019,"y":1057,"s":"NFκB signaling","g":"T"}
]
},
"layer":[
{"data":{"name":"boxes"},"mark":{"type":"rect","fill":"white","stroke":"black","strokeWidth":4.5},
 "encoding":{"x":{"field":"x1","type":"quantitative","scale":{"domain":[0,1191],"nice":false,"zero":false},"axis":null},"x2":{"field":"x2"},
 "y":{"field":"y1","type":"quantitative","scale":{"domain":[0,1160],"nice":false,"zero":false,"reverse":true},"axis":null},"y2":{"field":"y2"}}},
{"data":{"name":"loops"},"transform":[{"filter":"datum.st=='s'"}],
 "mark":{"type":"point","shape":"M-1,0A1,1,0,1,0,1,0A1,1,0,1,0,-1,0Z","filled":false,"color":"#7d7d7d","stroke":"#7d7d7d","strokeWidth":1.6,"opacity":1},
 "encoding":{"x":{"field":"x","type":"quantitative","scale":{"domain":[0,1191],"nice":false,"zero":false},"axis":null},
 "y":{"field":"y","type":"quantitative","scale":{"domain":[0,1160],"nice":false,"zero":false,"reverse":true},"axis":null},
 "size":{"field":"k","type":"ordinal","scale":{"domain":["s","m","b","h"],"range":[1444,1936,5776,10000]},"legend":null}}},
{"data":{"name":"loops"},"transform":[{"filter":"datum.st=='d'"}],
 "mark":{"type":"point","shape":"M-1,0A1,1,0,1,0,1,0A1,1,0,1,0,-1,0Z","filled":false,"color":"#7d7d7d","stroke":"#7d7d7d","strokeWidth":1.6,"strokeDash":[7,4],"opacity":1},
 "encoding":{"x":{"field":"x","type":"quantitative","scale":{"domain":[0,1191],"nice":false,"zero":false},"axis":null},
 "y":{"field":"y","type":"quantitative","scale":{"domain":[0,1160],"nice":false,"zero":false,"reverse":true},"axis":null},
 "size":{"field":"k","type":"ordinal","scale":{"domain":["s","m","b","h"],"range":[1444,1936,5776,10000]},"legend":null}}},
{"data":{"name":"edges"},"transform":[
 {"lookup":"s","from":{"data":{"name":"nodes"},"key":"id","fields":["x","y"]},"as":["sx","sy"]},
 {"lookup":"t","from":{"data":{"name":"nodes"},"key":"id","fields":["x","y"]},"as":["tx","ty"]},
 {"filter":"datum.k=='s'"}],
 "mark":{"type":"rule","color":"#7d7d7d","strokeWidth":1.6},
 "encoding":{"x":{"field":"sx","type":"quantitative","scale":{"domain":[0,1191],"nice":false,"zero":false},"axis":null},"x2":{"field":"tx"},
 "y":{"field":"sy","type":"quantitative","scale":{"domain":[0,1160],"nice":false,"zero":false,"reverse":true},"axis":null},"y2":{"field":"ty"}}},
{"data":{"name":"edges"},"transform":[
 {"lookup":"s","from":{"data":{"name":"nodes"},"key":"id","fields":["x","y"]},"as":["sx","sy"]},
 {"lookup":"t","from":{"data":{"name":"nodes"},"key":"id","fields":["x","y"]},"as":["tx","ty"]},
 {"filter":"datum.k=='d'"}],
 "mark":{"type":"rule","color":"#7d7d7d","strokeWidth":1.6,"strokeDash":[7,4]},
 "encoding":{"x":{"field":"sx","type":"quantitative","scale":{"domain":[0,1191],"nice":false,"zero":false},"axis":null},"x2":{"field":"tx"},
 "y":{"field":"sy","type":"quantitative","scale":{"domain":[0,1160],"nice":false,"zero":false,"reverse":true},"axis":null},"y2":{"field":"ty"}}},
{"data":{"name":"edges"},"transform":[
 {"lookup":"t","from":{"data":{"name":"nodes"},"key":"id","fields":["x","y","t"]},"as":["tx","ty","tt"]},
 {"filter":"isValid(datum.a)"}],
 "mark":{"type":"point","filled":true,"size":900,"color":"#767676","opacity":1},
 "encoding":{"x":{"field":"tx","type":"quantitative","scale":{"domain":[0,1191],"nice":false,"zero":false},"axis":null},
 "y":{"field":"ty","type":"quantitative","scale":{"domain":[0,1160],"nice":false,"zero":false,"reverse":true},"axis":null},
 "angle":{"field":"a","type":"quantitative","scale":null},
 "shape":{"field":"tt","type":"nominal","legend":null,"scale":{"domain":["oth","cx","tr","tm","enz","kin","phos","gpcr","ion","growth","cyt","trans","pep","nuc","mir"],"range":["M-0.933,0L-1.6,-0.3L-1.6,0.3Z","M-0.867,0L-1.533,-0.3L-1.533,0.3Z","M-1.067,0L-1.733,-0.3L-1.733,0.3Z","M-1,0L-1.667,-0.3L-1.667,0.3Z","M-0.933,0L-1.6,-0.3L-1.6,0.3Z","M-0.867,0L-1.533,-0.3L-1.533,0.3Z","M-0.867,0L-1.533,-0.3L-1.533,0.3Z","M-1.133,0L-1.8,-0.3L-1.8,0.3Z","M-1,0L-1.667,-0.3L-1.667,0.3Z","M-1.133,0L-1.8,-0.3L-1.8,0.3Z","M-1.133,0L-1.8,-0.3L-1.8,0.3Z","M-1,0L-1.667,-0.3L-1.667,0.3Z","M-1,0L-1.667,-0.3L-1.667,0.3Z","M-1,0L-1.667,-0.3L-1.667,0.3Z","M-1,0L-1.667,-0.3L-1.667,0.3Z"]}}}},
{"data":{"name":"nodes"},"transform":[{"filter":"datum.t!='ion' && datum.t!='growth'"}],
 "mark":{"type":"point","filled":true,"size":900,"stroke":"#8a8a8a","strokeWidth":1.1,"opacity":1},
 "encoding":{"x":{"field":"x","type":"quantitative","scale":{"domain":[0,1191],"nice":false,"zero":false},"axis":null},
 "y":{"field":"y","type":"quantitative","scale":{"domain":[0,1160],"nice":false,"zero":false,"reverse":true},"axis":null},
 "shape":{"field":"t","type":"nominal","legend":null,"scale":{"domain":["oth","cx","tr","tm","enz","kin","phos","gpcr","ion","growth","cyt","trans","pep","nuc","mir"],"range":["M-0.867,0A0.867,0.867,0,1,0,0.867,0A0.867,0.867,0,1,0,-0.867,0Z","M-0.8,0A0.8,0.8,0,1,0,0.8,0A0.8,0.8,0,1,0,-0.8,0ZM-0.55,0A0.55,0.55,0,1,0,0.55,0A0.55,0.55,0,1,0,-0.55,0Z","M-2.2,0A2.2,1,0,1,0,2.2,0A2.2,1,0,1,0,-2.2,0Z","M-0.93,0A0.93,2.05,0,1,0,0.93,0A0.93,2.05,0,1,0,-0.93,0Z","M0,-1.93L0.87,0L0,1.93L-0.87,0Z","M-1,-0.9L1,-0.9L0,0.9Z","M0,-0.93L0.97,0.93L-0.97,0.93Z","M-1.03,-2.2H1.03V2.2H-1.03Z","M-0.95,-2.05H0.95V2.05H-0.95Z","M-1.07,-1.07H1.07V1.07H-1.07Z","M-1.07,-1H1.07V1H-1.07Z","M-0.6,-1H0.6L1.05,1H-1.05Z","M-1.93,0L0,-0.93L1.93,0L0,0.93Z","M-2.07,-0.93H2.07V0.93H-2.07Z","M-1.1,-1H1.1L0.55,1H-0.55Z"]}},
 "fill":{"field":"r","type":"nominal","legend":null,"scale":{"domain":[1,0],"range":["#e6342e","#ffffff"]}}}},
{"data":{"name":"nodes"},"transform":[{"filter":"datum.t=='ion' || datum.t=='growth'"}],
 "mark":{"type":"point","filled":true,"size":900,"stroke":"#8a8a8a","strokeWidth":1.1,"strokeDash":[4,3],"opacity":1},
 "encoding":{"x":{"field":"x","type":"quantitative","scale":{"domain":[0,1191],"nice":false,"zero":false},"axis":null},
 "y":{"field":"y","type":"quantitative","scale":{"domain":[0,1160],"nice":false,"zero":false,"reverse":true},"axis":null},
 "shape":{"field":"t","type":"nominal","legend":null,"scale":{"domain":["oth","cx","tr","tm","enz","kin","phos","gpcr","ion","growth","cyt","trans","pep","nuc","mir"],"range":["M-0.867,0A0.867,0.867,0,1,0,0.867,0A0.867,0.867,0,1,0,-0.867,0Z","M-0.8,0A0.8,0.8,0,1,0,0.8,0A0.8,0.8,0,1,0,-0.8,0ZM-0.55,0A0.55,0.55,0,1,0,0.55,0A0.55,0.55,0,1,0,-0.55,0Z","M-2.2,0A2.2,1,0,1,0,2.2,0A2.2,1,0,1,0,-2.2,0Z","M-0.93,0A0.93,2.05,0,1,0,0.93,0A0.93,2.05,0,1,0,-0.93,0Z","M0,-1.93L0.87,0L0,1.93L-0.87,0Z","M-1,-0.9L1,-0.9L0,0.9Z","M0,-0.93L0.97,0.93L-0.97,0.93Z","M-1.03,-2.2H1.03V2.2H-1.03Z","M-0.95,-2.05H0.95V2.05H-0.95Z","M-1.07,-1.07H1.07V1.07H-1.07Z","M-1.07,-1H1.07V1H-1.07Z","M-0.6,-1H0.6L1.05,1H-1.05Z","M-1.93,0L0,-0.93L1.93,0L0,0.93Z","M-2.07,-0.93H2.07V0.93H-2.07Z","M-1.1,-1H1.1L0.55,1H-0.55Z"]}},
 "fill":{"field":"r","type":"nominal","legend":null,"scale":{"domain":[1,0],"range":["#e6342e","#ffffff"]}}}},
{"data":{"name":"legshapes"},"transform":[{"filter":"datum.t!='L_ion' && datum.t!='L_growth'"}],
 "mark":{"type":"point","filled":true,"size":900,"fill":"#f50000","stroke":"black","strokeWidth":1.4,"opacity":1},
 "encoding":{"x":{"field":"x","type":"quantitative","scale":{"domain":[0,1191],"nice":false,"zero":false},"axis":null},
 "y":{"field":"y","type":"quantitative","scale":{"domain":[0,1160],"nice":false,"zero":false,"reverse":true},"axis":null},
 "shape":{"field":"t","type":"nominal","legend":null,"scale":{"domain":["L_phos","L_cyt","L_tm","L_kin","L_enz","L_tr","L_trans","L_pep","L_gpcr","L_growth","L_ion","L_oth"],"range":["M0,-1.5L1.5,1.5L-1.5,1.5Z","M-0.97,-0.93H0.97V0.93H-0.97Z","M-0.97,0A0.97,2,0,1,0,0.97,0A0.97,2,0,1,0,-0.97,0Z","M-1.5,-1.5L1.5,-1.5L0,1.5Z","M0,-1.8L1.43,0L0,1.8L-1.43,0Z","M-1.93,0A1.93,1.1,0,1,0,1.93,0A1.93,1.1,0,1,0,-1.93,0Z","M-0.73,-1.5H0.73L1.47,1.5H-1.47Z","M-2,0L0,-1.47L2,0L0,1.47Z","M-1.03,-1.93H1.03V1.93H-1.03Z","M-1.03,-0.97H1.03V0.97H-1.03Z","M-1.03,-2H1.03V2H-1.03Z","M-1.03,0A1.03,1.13,0,1,0,1.03,0A1.03,1.13,0,1,0,-1.03,0Z"]}}}},
{"data":{"name":"legshapes"},"transform":[{"filter":"datum.t=='L_ion' || datum.t=='L_growth'"}],
 "mark":{"type":"point","filled":true,"size":900,"fill":"#f50000","stroke":"black","strokeWidth":1.6,"strokeDash":[5,3],"opacity":1},
 "encoding":{"x":{"field":"x","type":"quantitative","scale":{"domain":[0,1191],"nice":false,"zero":false},"axis":null},
 "y":{"field":"y","type":"quantitative","scale":{"domain":[0,1160],"nice":false,"zero":false,"reverse":true},"axis":null},
 "shape":{"field":"t","type":"nominal","legend":null,"scale":{"domain":["L_phos","L_cyt","L_tm","L_kin","L_enz","L_tr","L_trans","L_pep","L_gpcr","L_growth","L_ion","L_oth"],"range":["M0,-1.5L1.5,1.5L-1.5,1.5Z","M-0.97,-0.93H0.97V0.93H-0.97Z","M-0.97,0A0.97,2,0,1,0,0.97,0A0.97,2,0,1,0,-0.97,0Z","M-1.5,-1.5L1.5,-1.5L0,1.5Z","M0,-1.8L1.43,0L0,1.8L-1.43,0Z","M-1.93,0A1.93,1.1,0,1,0,1.93,0A1.93,1.1,0,1,0,-1.93,0Z","M-0.73,-1.5H0.73L1.47,1.5H-1.47Z","M-2,0L0,-1.47L2,0L0,1.47Z","M-1.03,-1.93H1.03V1.93H-1.03Z","M-1.03,-0.97H1.03V0.97H-1.03Z","M-1.03,-2H1.03V2H-1.03Z","M-1.03,0A1.03,1.13,0,1,0,1.03,0A1.03,1.13,0,1,0,-1.03,0Z"]}}}},
{"data":{"name":"leglines"},"transform":[{"filter":"datum.k=='s'"}],"mark":{"type":"rule","color":"#999999","strokeWidth":3.5},
 "encoding":{"x":{"field":"x1","type":"quantitative","scale":{"domain":[0,1191],"nice":false,"zero":false},"axis":null},"x2":{"field":"x2"},
 "y":{"field":"y1","type":"quantitative","scale":{"domain":[0,1160],"nice":false,"zero":false,"reverse":true},"axis":null},"y2":{"field":"y2"}}},
{"data":{"name":"leglines"},"transform":[{"filter":"datum.k=='d'"}],"mark":{"type":"rule","color":"#999999","strokeWidth":3.5,"strokeDash":[9,4]},
 "encoding":{"x":{"field":"x1","type":"quantitative","scale":{"domain":[0,1191],"nice":false,"zero":false},"axis":null},"x2":{"field":"x2"},
 "y":{"field":"y1","type":"quantitative","scale":{"domain":[0,1160],"nice":false,"zero":false,"reverse":true},"axis":null},"y2":{"field":"y2"}}},
{"data":{"name":"nodes"},"mark":{"type":"text","font":"Liberation Sans","fontSize":15,"color":"#1c1c1c","align":"center","baseline":"middle"},
 "encoding":{"x":{"field":"lx","type":"quantitative","scale":{"domain":[0,1191],"nice":false,"zero":false},"axis":null},
 "y":{"field":"ly","type":"quantitative","scale":{"domain":[0,1160],"nice":false,"zero":false,"reverse":true},"axis":null},"text":{"field":"l"}}},
{"data":{"name":"syms"},"mark":{"type":"text","font":"DejaVu Sans","fontWeight":"bold","fontSize":21,"color":"black","align":"center","baseline":"middle"},
 "encoding":{"x":{"field":"x","type":"quantitative","scale":{"domain":[0,1191],"nice":false,"zero":false},"axis":null},
 "y":{"field":"y","type":"quantitative","scale":{"domain":[0,1160],"nice":false,"zero":false,"reverse":true},"axis":null},"text":{"field":"s"}}},
{"data":{"name":"bluesym"},"mark":{"type":"text","font":"DejaVu Sans","fontWeight":"bold","fontSize":21,"color":"#1a3d8f","align":"center","baseline":"middle"},
 "encoding":{"x":{"field":"x","type":"quantitative","scale":{"domain":[0,1191],"nice":false,"zero":false},"axis":null},
 "y":{"field":"y","type":"quantitative","scale":{"domain":[0,1160],"nice":false,"zero":false,"reverse":true},"axis":null},"text":{"field":"s"}}},
{"data":{"name":"texts"},"transform":[{"filter":"datum.g=='L'"}],"mark":{"type":"text","font":"Liberation Sans","fontWeight":"bold","fontSize":28,"color":"black","align":"center","baseline":"middle"},
 "encoding":{"x":{"field":"x","type":"quantitative","scale":{"domain":[0,1191],"nice":false,"zero":false},"axis":null},
 "y":{"field":"y","type":"quantitative","scale":{"domain":[0,1160],"nice":false,"zero":false,"reverse":true},"axis":null},"text":{"field":"s"}}},
{"data":{"name":"texts"},"transform":[{"filter":"datum.g=='P'"}],"mark":{"type":"text","font":"Lato","fontWeight":"bold","fontSize":21,"color":"black","align":"right","baseline":"middle"},
 "encoding":{"x":{"field":"x","type":"quantitative","scale":{"domain":[0,1191],"nice":false,"zero":false},"axis":null},
 "y":{"field":"y","type":"quantitative","scale":{"domain":[0,1160],"nice":false,"zero":false,"reverse":true},"axis":null},"text":{"field":"s"}}},
{"data":{"name":"texts"},"transform":[{"filter":"datum.g=='E'"}],"mark":{"type":"text","font":"Lato","fontWeight":"bold","fontSize":14,"color":"black","align":"left","baseline":"middle"},
 "encoding":{"x":{"field":"x","type":"quantitative","scale":{"domain":[0,1191],"nice":false,"zero":false},"axis":null},
 "y":{"field":"y","type":"quantitative","scale":{"domain":[0,1160],"nice":false,"zero":false,"reverse":true},"axis":null},"text":{"field":"s"}}},
{"data":{"name":"texts"},"transform":[{"filter":"datum.g=='T'"}],"mark":{"type":"text","font":"Lato","fontSize":17,"color":"#1a1a1a","align":"left","baseline":"middle"},
 "encoding":{"x":{"field":"x","type":"quantitative","scale":{"domain":[0,1191],"nice":false,"zero":false},"axis":null},
 "y":{"field":"y","type":"quantitative","scale":{"domain":[0,1160],"nice":false,"zero":false,"reverse":true},"axis":null},"text":{"field":"s"}}}
]
}
